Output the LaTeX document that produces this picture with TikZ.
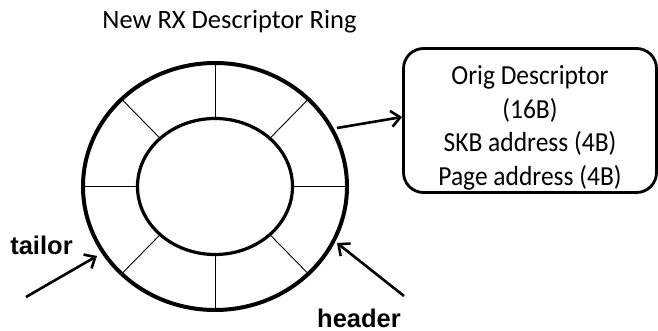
\documentclass[tikz,border=0pt]{standalone}
\usepackage{fontspec}
\setmainfont{Carlito}
\newfontfamily\labelfont{Liberation Sans}
\usetikzlibrary{arrows.meta,calc}
\begin{document}
\begin{tikzpicture}[x=1pt,y=-1pt,
  ring/.style={line width=4pt},
  hub/.style={line width=3.2pt},
  spoke/.style={line width=0.9pt},
  pointer/.style={line width=2.6pt,-{Straight Barb[length=9pt,width=16pt,line width=2.6pt]}},
  infobox/.style={draw,line width=2.8pt,rounded corners=20pt,minimum width=253pt,minimum height=144pt,inner sep=0pt},
  infotext/.style={align=center,font=\fontsize{25.5}{31}\selectfont,inner sep=0pt,yscale=1.08},
  tag/.style={font=\labelfont\bfseries\fontsize{25.5}{27}\selectfont,inner sep=0pt}]
\useasboundingbox (0,0) rectangle (658,331);

% title
\node[font=\fontsize{26.5}{28}\selectfont,inner sep=0pt] (title) at (229.5,22) {New RX Descriptor Ring};

% descriptor ring: outer and inner ellipses with eight spokes
\coordinate (c) at (215,186.5);
\draw[ring] (c) ellipse[x radius=132, y radius=123.5];
\draw[hub] (c) ellipse[x radius=77.5, y radius=68];
\foreach \a in {0,45,...,315}
  \draw[spoke] ($(c)+({77.5*cos(\a)},{-68*sin(\a)})$) -- ($(c)+({132*cos(\a)},{-123.5*sin(\a)})$);

% descriptor contents
\node[infobox] (box) at (530,120.5) {};
\node[infotext] (boxtext) at (530,128) {Orig Descriptor\\(16B)\\SKB address (4B)\\Page address (4B)};
\coordinate (rimR) at (337,128);
\draw[pointer] (rimR) -- (box.west |- 0,117);

% tailor pointer
\node[tag] (tailor) at (41.5,245) {tailor};
\coordinate (tailS) at (26,297);
\coordinate (tailE) at (97,256);
\draw[pointer] (tailS) -- (tailE);

% header pointer
\node[tag] (header) at (359,318) {header};
\coordinate (headS) at (404,296);
\coordinate (headE) at (337,243);
\draw[pointer] (headS) -- (headE);
\end{tikzpicture}
\end{document}
